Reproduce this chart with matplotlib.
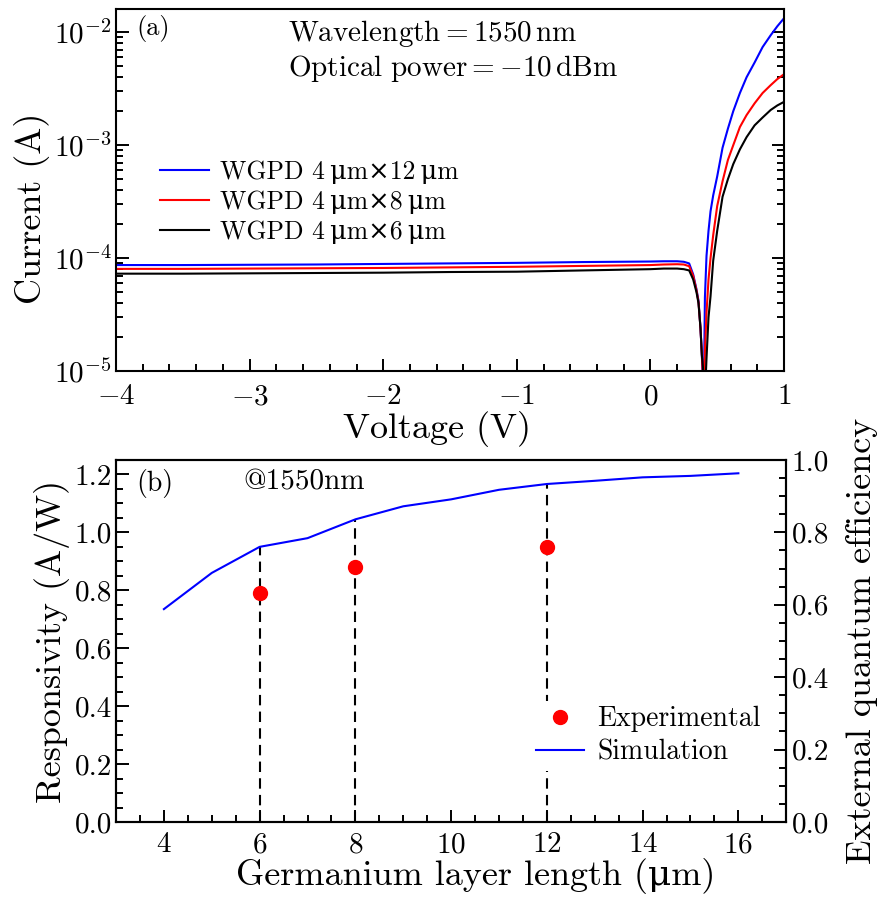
import numpy as np
import matplotlib
matplotlib.use('Agg')
import matplotlib.pyplot as plt
from matplotlib.ticker import MultipleLocator, LogLocator, NullFormatter

plt.rcParams['font.family'] = ['cmr10', 'DejaVu Serif']
plt.rcParams['mathtext.fontset'] = 'cm'
plt.rcParams['axes.formatter.use_mathtext'] = True
plt.rcParams['axes.unicode_minus'] = True

# (a) I-V curves, -10 dBm at 1550 nm
volt = [-4.0, -3.5, -3.0, -2.5, -2.0, -1.5, -1.0, -0.5, 0.0, 0.1, 0.2, 0.25, 0.29, 0.32,
        0.345, 0.36, 0.375, 0.385, 0.393, 0.40, 0.408, 0.42, 0.435, 0.45, 0.47, 0.5, 0.54,
        0.58, 0.62, 0.67, 0.72, 0.78, 0.84, 0.9, 0.95, 1.0]
cur_12 = [8.7e-5, 8.7e-5, 8.75e-5, 8.8e-5, 8.9e-5, 9.0e-5, 9.1e-5, 9.25e-5, 9.35e-5, 9.4e-5, 9.4e-5,
          9.3e-5, 9.0e-5, 7.2e-5, 5.3e-5, 4.2e-5, 2.4e-5, 1.4e-5, 8e-6, 6e-6, 4.5e-5, 1.05e-4,
          1.75e-4, 2.6e-4, 3.6e-4, 5.3e-4, 9.5e-4, 1.4e-3, 2.0e-3, 2.9e-3, 4.0e-3, 5.4e-3, 7.4e-3,
          9.4e-3, 1.13e-2, 1.33e-2]
cur_8 = [8.05e-5, 8.05e-5, 8.1e-5, 8.15e-5, 8.2e-5, 8.3e-5, 8.4e-5, 8.55e-5, 8.7e-5, 8.8e-5, 8.85e-5,
         8.8e-5, 8.5e-5, 7.0e-5, 5.2e-5, 4.1e-5, 2.4e-5, 1.4e-5, 9e-6, 6e-6, 1.5e-5, 3.3e-5,
         6.5e-5, 1.0e-4, 1.6e-4, 2.9e-4, 4.8e-4, 7.4e-4, 1.0e-3, 1.45e-3, 1.85e-3, 2.35e-3, 2.9e-3,
         3.4e-3, 3.85e-3, 4.25e-3]
cur_6 = [7.3e-5, 7.3e-5, 7.35e-5, 7.4e-5, 7.45e-5, 7.55e-5, 7.6e-5, 7.8e-5, 8.0e-5, 8.1e-5, 8.1e-5,
         8.0e-5, 7.8e-5, 6.5e-5, 5.0e-5, 4.0e-5, 2.4e-5, 1.4e-5, 1.1e-5, 7e-6, 6e-6, 1.3e-5,
         3.0e-5, 4.6e-5, 9.5e-5, 1.75e-4, 3.5e-4, 5.0e-4, 6.8e-4, 9.2e-4, 1.18e-3, 1.5e-3, 1.76e-3,
         2.05e-3, 2.25e-3, 2.42e-3]
labels_a = ['WGPD 4\u2009μm×12\u2009μm', 'WGPD 4\u2009μm×8\u2009μm', 'WGPD 4\u2009μm×6\u2009μm']

# (b) responsivity vs germanium length
ge_len_sim = [4, 5, 6, 7, 8, 9, 10, 11, 12, 13, 14, 15, 16]
resp_sim = [0.735, 0.86, 0.95, 0.98, 1.045, 1.09, 1.114, 1.147, 1.167, 1.178, 1.19, 1.195, 1.204]
ge_len_exp = [6, 8, 12]
resp_exp = [0.79, 0.88, 0.95]
resp_sim_at_exp = [0.95, 1.045, 1.167]

fig = plt.figure(figsize=(8.96, 9.01), dpi=100)

ax1 = fig.add_axes([0.1295, 0.588, 0.7455, 0.4018])
ax1.plot(volt, cur_12, color='blue', lw=1.5, label=labels_a[0])
ax1.plot(volt, cur_8, color='red', lw=1.5, label=labels_a[1])
ax1.plot(volt, cur_6, color='black', lw=1.5, label=labels_a[2])
ax1.set_yscale('log')
ax1.set_xlim(-4, 1)
ax1.set_ylim(1e-5, 1.6e-2)
ax1.xaxis.set_major_locator(MultipleLocator(1))
ax1.xaxis.set_minor_locator(MultipleLocator(0.2))
ax1.yaxis.set_major_locator(LogLocator(base=10, numticks=10))
ax1.yaxis.set_minor_locator(LogLocator(base=10, subs=np.arange(2, 10), numticks=20))
ax1.yaxis.set_minor_formatter(NullFormatter())
ax1.tick_params(which='both', direction='in', right=True, top=False, labelsize=21, width=1.4)
ax1.tick_params(which='major', length=9)
ax1.tick_params(which='minor', length=5)
ax1.tick_params(axis='x', pad=9)
ax1.tick_params(axis='y', pad=3)
ax1.set_xlabel('Voltage (V)', fontsize=26, labelpad=1, x=0.481)
ax1.set_ylabel('Current (A)', fontsize=26, labelpad=3, y=0.45)
ax1.text(0.03, 0.985, '(a)', transform=ax1.transAxes, fontsize=19, va='top')
ax1.text(0.257, 0.975, r'$\mathrm{Wavelength}=1550\,\mathrm{nm}$', transform=ax1.transAxes,
         fontsize=21, va='top')
ax1.text(0.257, 0.88, r'$\mathrm{Optical\ power}=-10\,\mathrm{dBm}$', transform=ax1.transAxes,
         fontsize=21, va='top')
ax1.legend(loc='upper left', bbox_to_anchor=(0.05, 0.612), frameon=False, fontsize=18.5,
           handlelength=1.9, handletextpad=0.45, labelspacing=0.25, borderaxespad=0)
for s in ax1.spines.values():
    s.set_linewidth(1.5)

ax2 = fig.add_axes([0.1295, 0.0877, 0.748, 0.4018])
for x, y in zip(ge_len_exp, resp_sim_at_exp):
    ax2.plot([x, x], [0, y], color='black', ls=(0, (5, 3)), lw=1.5)
ax2.plot(ge_len_sim, resp_sim, color='blue', lw=1.5, label='Simulation')
ax2.plot(ge_len_exp, resp_exp, 'o', color='red', ms=10, label='Experimental', zorder=5)
ax2.set_xlim(3, 17)
ax2.set_ylim(0, 1.25)
ax2.xaxis.set_major_locator(MultipleLocator(2))
ax2.xaxis.set_minor_locator(MultipleLocator(0.5))
ax2.yaxis.set_major_locator(MultipleLocator(0.2))
ax2.yaxis.set_minor_locator(MultipleLocator(0.05))
ax2.yaxis.set_major_formatter(plt.FuncFormatter(lambda v, p: f'{v:.1f}'))
ax2.tick_params(which='both', direction='in', right=False, top=False, labelsize=21, width=1.4)
ax2.tick_params(which='major', length=9)
ax2.tick_params(which='minor', length=5)
ax2.tick_params(axis='x', pad=7)
ax2.tick_params(axis='y', pad=3)
ax2.set_xlabel('Germanium layer length (μm)', fontsize=26, labelpad=0, x=0.536)
ax2.set_ylabel('Responsivity (A/W)', fontsize=26, labelpad=3)
ax2.text(0.03, 0.975, '(b)', transform=ax2.transAxes, fontsize=20, va='top')
ax2.text(0.19, 0.975, '@1550nm', transform=ax2.transAxes, fontsize=21, va='top')
h, l = ax2.get_legend_handles_labels()
leg = ax2.legend(h[::-1], l[::-1], loc='lower right', bbox_to_anchor=(0.97, 0.14), frameon=True,
                 fontsize=20, handlelength=1.75, handletextpad=0.47, labelspacing=0.25,
                 borderaxespad=0, borderpad=0.2)
leg.get_frame().set_edgecolor('none')
leg.get_frame().set_facecolor('white')
leg.get_frame().set_alpha(1)

ax3 = ax2.twinx()
ax3.set_ylim(0, 1.0)
ax3.yaxis.set_major_locator(MultipleLocator(0.2))
ax3.yaxis.set_minor_locator(MultipleLocator(0.05))
ax3.yaxis.set_major_formatter(plt.FuncFormatter(lambda v, p: f'{v:.1f}'))
ax3.tick_params(which='both', direction='in', labelsize=21, width=1.4, pad=4)
ax3.tick_params(which='major', length=9)
ax3.tick_params(which='minor', length=5)
ax3.set_ylabel('External quantum efficiency', fontsize=26, labelpad=12)
for s in list(ax2.spines.values()) + list(ax3.spines.values()):
    s.set_linewidth(1.5)

fig.savefig('out.png', dpi=100)
